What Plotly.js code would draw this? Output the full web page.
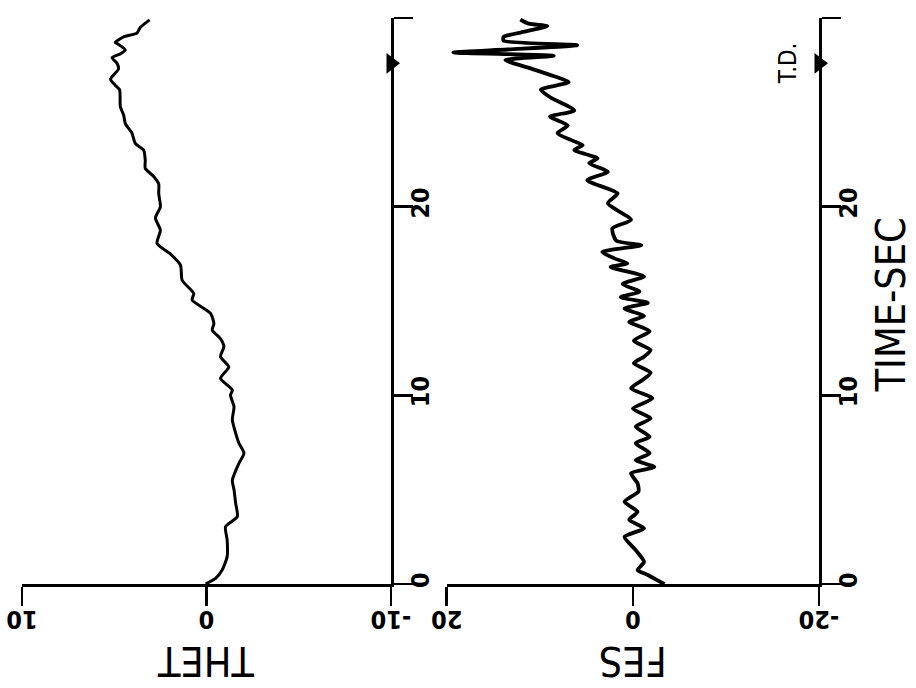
<!DOCTYPE html>
<html>
<head>
<meta charset="utf-8">
<script src="https://cdn.plot.ly/plotly-3.0.1.min.js"></script>
<style>
  html, body { margin: 0; padding: 0; background: #fff; }
  #chart { width: 916px; height: 688px; }
</style>
</head>
<body>
<div id="chart"></div>
<script>
// ---- data ----
const thetTime = [0.0, 0.3, 0.74, 1.45, 2.33, 3.04, 3.57, 4.28, 5.0, 5.5, 6.4, 6.93, 7.46, 8.0, 8.7, 9.4, 10.0, 10.28, 10.9, 11.5, 12.05, 12.58, 13.0, 13.46, 13.8, 14.35, 15.05, 15.4, 16.1, 16.9, 17.5, 18.05, 18.76, 19.4, 20.0, 20.7, 21.2, 21.6, 22.03, 22.47, 23.0, 23.35, 23.9, 24.4, 24.85, 25.3, 26.2, 26.44, 26.76, 27.3, 27.6, 27.9, 28.1, 28.3, 28.6, 28.7, 29.0, 29.2, 29.5, 29.9];
const thet = [0.05, -0.49, -0.85, -1.12, -1.12, -1.03, -1.67, -1.58, -1.49, -1.4, -1.76, -2.03, -1.76, -1.58, -1.4, -1.49, -1.3, -1.4, -0.76, -1.21, -0.76, -0.94, -0.76, -0.31, -0.4, -0.22, 0.78, 0.69, 1.32, 1.41, 1.96, 2.68, 2.5, 2.77, 2.5, 2.59, 2.59, 2.86, 3.32, 3.32, 3.41, 3.86, 4.04, 4.4, 4.49, 4.67, 4.71, 4.95, 5.2, 4.77, 4.85, 5.12, 4.67, 4.4, 4.77, 4.95, 4.49, 3.77, 3.59, 3.08];

const fesTime = [0.0, 0.1, 0.48, 0.74, 1.17, 1.8, 2.5, 2.95, 3.4, 3.83, 4.36, 4.9, 5.34, 5.87, 6.2, 6.57, 6.93, 7.46, 7.8, 8.34, 8.78, 9.3, 9.84, 10.37, 10.8, 11.2, 11.7, 12.05, 12.4, 12.9, 13.4, 13.9, 14.2, 14.6, 14.9, 15.2, 15.5, 15.9, 16.3, 16.8, 17.0, 17.26, 17.6, 17.96, 18.2, 18.85, 19.3, 20.18, 20.7, 21.4, 21.85, 22.3, 22.56, 23.0, 23.26, 23.5, 23.9, 24.3, 24.77, 25.1, 25.8, 26.2, 26.6, 27.0, 27.33, 27.77, 28.0, 28.17, 28.33, 28.56, 28.8, 29.0, 29.3, 29.57, 29.7, 29.92];
const fes = [-3.4, -3.0, -1.6, -0.5, -1.2, -0.3, 0.9, -1.2, 0.4, -0.5, 0.9, -0.6, -0.5, 0.2, -2.3, -0.3, -1.8, -0.3, -1.8, -0.3, -1.9, 0.0, -2.1, 0.2, -1.0, -1.9, -0.1, -1.2, -1.9, -0.1, -1.8, 0.4, -1.2, 0.9, -1.6, 1.3, -0.7, 1.1, -1.2, 2.4, 0.6, 2.0, 3.3, -0.9, 1.8, 2.2, 0.2, 2.7, 1.65, 4.9, 2.7, 4.7, 3.8, 6.3, 5.4, 6.5, 8.1, 7.0, 8.9, 6.3, 8.9, 9.9, 6.9, 9.0, 11.0, 13.7, 8.5, 19.3, 13.5, 6.0, 13.9, 13.9, 11.4, 9.2, 11.2, 12.1];

const timeTicks = [0, 10, 20, 30];
const thetTicks = [10, 0, -10];
const fesTicks = [20, 0, -20];
const tdTime = 27.6;
const tdLabel = "T.D.";

// ---- styling ----
const FONT = "Liberation Sans Narrow, DejaVu Sans Condensed, Arial Narrow, sans-serif";
const INK = "#000";

const valueAxis = (range, ticks, domain) => ({
  domain: domain,
  range: range,
  tickvals: ticks,
  ticktext: ticks.map(String),
  tickangle: 180,
  showline: true, linecolor: INK, linewidth: 2.8,
  ticks: "outside", ticklen: 19, tickwidth: 2.8, tickcolor: INK,
  showgrid: false, zeroline: false,
  tickfont: { family: FONT, size: 25, color: INK, weight: "bold" },
  fixedrange: true
});
const timeAxis = (anchor, extra) => Object.assign({
  anchor: anchor, side: "right",
  range: [0, 30],
  tickvals: timeTicks,
  ticktext: timeTicks.map(String),
  tickangle: -90,
  ticklabelstandoff: -14,
  showline: true, linecolor: INK, linewidth: 2.8,
  ticks: "outside", ticklen: 19, tickwidth: 2.8, tickcolor: INK,
  showgrid: false, zeroline: false,
  tickfont: { family: FONT, size: 25, color: INK, weight: "bold" },
  fixedrange: true
}, extra || {});

const traces = [
  { x: thet, y: thetTime, xaxis: "x", yaxis: "y", type: "scatter", mode: "lines",
    line: { color: INK, width: 3, shape: "spline", smoothing: 0.6 }, hoverinfo: "none" },
  { x: fes, y: fesTime, xaxis: "x2", yaxis: "y2", type: "scatter", mode: "lines",
    line: { color: INK, width: 3.8, shape: "spline", smoothing: 0.6 }, hoverinfo: "none" },
  { x: [thetTicks[thetTicks.length - 1]], y: [tdTime], xaxis: "x", yaxis: "y", type: "scatter", mode: "markers",
    marker: { symbol: "triangle-right", size: 18, color: INK }, cliponaxis: false, hoverinfo: "none" },
  { x: [fesTicks[fesTicks.length - 1]], y: [tdTime], xaxis: "x2", yaxis: "y2", type: "scatter", mode: "markers",
    marker: { symbol: "triangle-right", size: 18, color: INK }, cliponaxis: false, hoverinfo: "none" }
];

const layout = {
  width: 916, height: 688,
  margin: { l: 22, r: 97, t: 18, b: 104 },
  paper_bgcolor: "#fff", plot_bgcolor: "#fff",
  showlegend: false,
  xaxis: valueAxis([10, -10], thetTicks, [0, 0.463]),
  xaxis2: valueAxis([20, -20], fesTicks, [0.533, 1]),
  yaxis: timeAxis("x"),
  yaxis2: timeAxis("x2", { matches: "y" }),
  annotations: [
    { text: "THET", xref: "x", x: 0, yref: "paper", y: -0.136, xanchor: "center", yanchor: "middle",
      textangle: 180, showarrow: false, font: { family: FONT, size: 41, color: INK } },
    { text: "FES", xref: "x2", x: 0, yref: "paper", y: -0.136, xanchor: "center", yanchor: "middle",
      textangle: 180, showarrow: false, font: { family: FONT, size: 41, color: INK } },
    { text: "TIME-SEC", xref: "paper", x: 1.09, yref: "y", y: 14.8, xanchor: "center", yanchor: "middle",
      textangle: -90, showarrow: false, font: { family: FONT, size: 41, color: INK } },
    { text: tdLabel, xref: "paper", x: 0.961, yref: "y", y: tdTime, xanchor: "center", yanchor: "middle",
      textangle: -90, showarrow: false, font: { family: FONT, size: 24, color: INK } }
  ]
};

Plotly.newPlot("chart", traces, layout, { staticPlot: true, displayModeBar: false });
</script>
</body>
</html>
